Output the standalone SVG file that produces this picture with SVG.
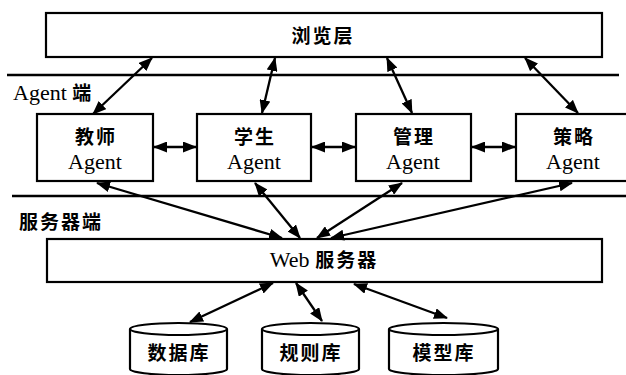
<svg xmlns="http://www.w3.org/2000/svg" width="626" height="375" viewBox="0 0 626 375">
  <defs>
    <marker id="head" viewBox="0 0 14 11" refX="13" refY="5.5" markerWidth="14" markerHeight="11" markerUnits="userSpaceOnUse" orient="auto-start-reverse">
      <path d="M0,0 L14,5.5 L0,11 Z" fill="#000"/>
    </marker>
  </defs>
  <style>
    .box { fill: #fff; stroke: #000; stroke-width: 2.2; }
    .sep { stroke: #000; stroke-width: 2.5; fill: none; }
    .link { stroke: #000; stroke-width: 2.3; fill: none; marker-start: url(#head); marker-end: url(#head); }
    .cn { font-family: "Noto Sans CJK SC", "Noto Sans", sans-serif; font-size: 19px; font-weight: 700; fill: #000; letter-spacing: 2px; }
    .lat { font-family: "Liberation Serif", serif; font-size: 22px; fill: #000; letter-spacing: 0; }
    .mid { text-anchor: middle; }
  </style>
  <rect width="626" height="375" fill="#fff"/>

  <!-- layer separators and labels -->
  <g id="layers">
    <line class="sep" x1="7" y1="75" x2="619" y2="75"/>
    <line class="sep" x1="12" y1="196" x2="626" y2="196"/>
    <text x="13" y="100"><tspan class="lat">Agent </tspan><tspan class="cn">端</tspan></text>
    <text class="cn" x="19" y="229">服务器端</text>
  </g>

  <!-- browser layer -->
  <g id="browser">
    <rect class="box" x="46" y="13" width="556" height="44"/>
    <text class="cn mid" x="323" y="43">浏览层</text>
  </g>

  <!-- agents -->
  <g id="teacher">
    <rect class="box" x="37" y="114" width="116" height="67"/>
    <text class="cn mid" x="96" y="144">教师</text>
    <text class="lat mid" x="95" y="169">Agent</text>
  </g>
  <g id="student">
    <rect class="box" x="197" y="114" width="114" height="67"/>
    <text class="cn mid" x="255" y="144">学生</text>
    <text class="lat mid" x="254" y="169">Agent</text>
  </g>
  <g id="manage">
    <rect class="box" x="356" y="114" width="115" height="67"/>
    <text class="cn mid" x="414" y="144">管理</text>
    <text class="lat mid" x="413" y="169">Agent</text>
  </g>
  <g id="strategy">
    <rect class="box" x="516" y="114" width="114" height="67"/>
    <text class="cn mid" x="574" y="144">策略</text>
    <text class="lat mid" x="573" y="169">Agent</text>
  </g>

  <!-- web server -->
  <g id="webserver">
    <rect class="box" x="47" y="239" width="555" height="43"/>
    <text x="324" y="267" class="mid"><tspan class="lat">Web </tspan><tspan class="cn">服务器</tspan></text>
  </g>

  <!-- repositories -->
  <g id="db-data">
    <path class="box" d="M130,329 L130,369 A48.5,6 0 0 0 227,369 L227,329 A48.5,6 0 0 0 130,329 Z"/>
    <path d="M130,329 A48.5,6 0 0 0 227,329" fill="none" stroke="#000" stroke-width="2.2"/>
    <text class="cn mid" x="179" y="360">数据库</text>
  </g>
  <g id="db-rule">
    <path class="box" d="M262,329 L262,369 A48.5,6 0 0 0 359,369 L359,329 A48.5,6 0 0 0 262,329 Z"/>
    <path d="M262,329 A48.5,6 0 0 0 359,329" fill="none" stroke="#000" stroke-width="2.2"/>
    <text class="cn mid" x="311" y="360">规则库</text>
  </g>
  <g id="db-model">
    <path class="box" d="M389,329 L389,369 A54.5,6 0 0 0 498,369 L498,329 A54.5,6 0 0 0 389,329 Z"/>
    <path d="M389,329 A54.5,6 0 0 0 498,329" fill="none" stroke="#000" stroke-width="2.2"/>
    <text class="cn mid" x="444" y="360">模型库</text>
  </g>

  <!-- connectors -->
  <g id="connectors">
    <line class="link" x1="152" y1="58" x2="93" y2="114"/>
    <line class="link" x1="275" y1="58" x2="262" y2="113"/>
    <line class="link" x1="387" y1="58" x2="412" y2="113"/>
    <line class="link" x1="525" y1="58" x2="578" y2="113"/>

    <line class="link" x1="154" y1="147" x2="196" y2="147"/>
    <line class="link" x1="312" y1="147" x2="355" y2="147"/>
    <line class="link" x1="472" y1="147" x2="515" y2="147"/>

    <line class="link" x1="97" y1="183" x2="282" y2="238"/>
    <line class="link" x1="255" y1="183" x2="300" y2="238"/>
    <line class="link" x1="402" y1="183" x2="317" y2="238"/>
    <line class="link" x1="572" y1="183" x2="331" y2="238"/>

    <line class="link" x1="273" y1="283" x2="190" y2="322"/>
    <line class="link" x1="296" y1="283" x2="322" y2="321"/>
    <line class="link" x1="354" y1="284" x2="447" y2="318"/>
  </g>
</svg>
